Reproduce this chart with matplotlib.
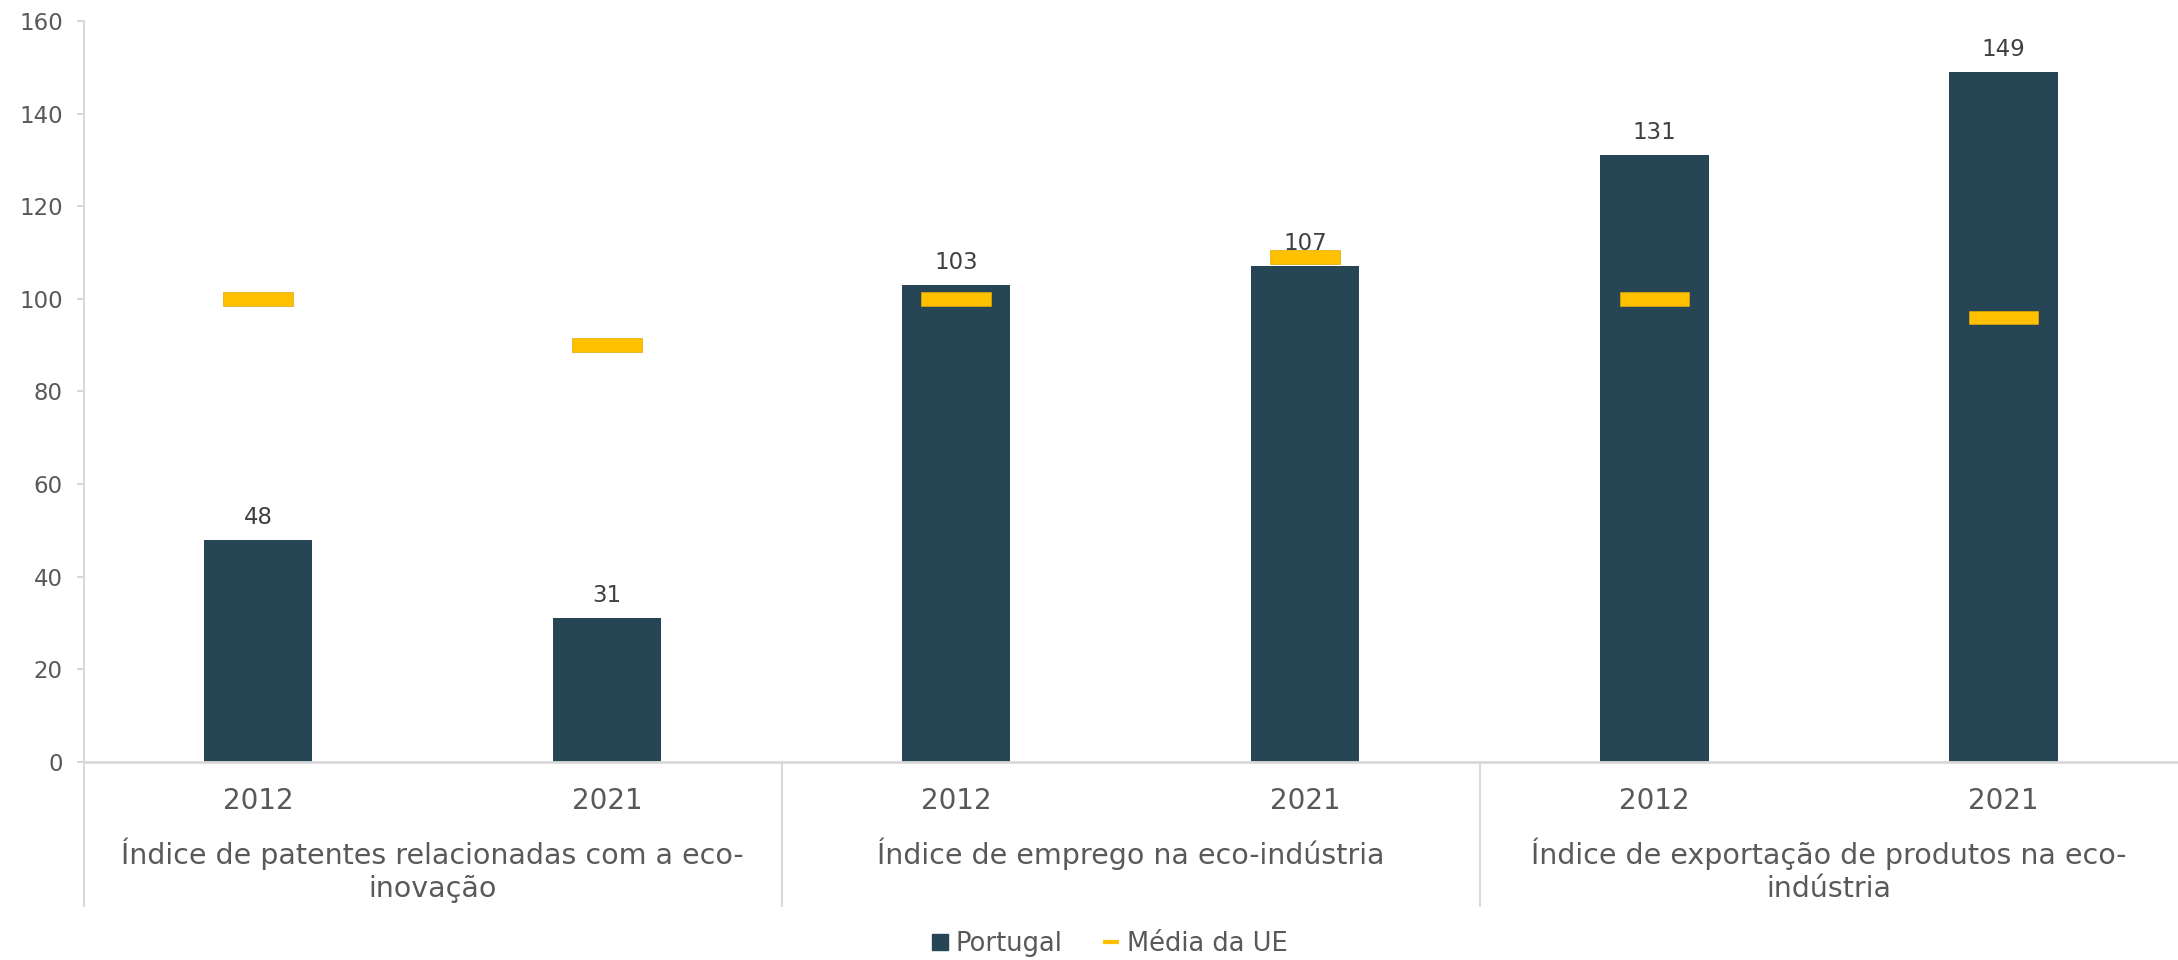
import matplotlib
matplotlib.use('Agg')
import matplotlib.pyplot as plt
from matplotlib.lines import Line2D

# Chart data
groups = ['Índice de patentes relacionadas com a eco-\ninovação',
          'Índice de emprego na eco-indústria',
          'Índice de exportação de produtos na eco-\nindústria']
years = ['2012', '2021', '2012', '2021', '2012', '2021']
portugal = [48, 31, 103, 107, 131, 149]
media_ue = [100, 90, 100, 109, 100, 96]

bar_color = '#264656'
ue_color = '#FFC000'
text_color = '#595959'
line_color = '#D9D9D9'

plt.rcParams['font.family'] = ['DejaVu Sans']

fig = plt.figure(figsize=(21.78, 9.6), dpi=100)
ax = fig.add_axes([0.0384, 0.2063, 0.9616, 0.7719])

x = list(range(len(portugal)))

# Portugal bars
ax.bar(x, portugal, width=0.31, color=bar_color, zorder=2)

# EU average markers (thin bars centred on the value)
ue_h = 2.9
ax.bar(x, [ue_h] * len(media_ue), bottom=[v - ue_h / 2 for v in media_ue],
       width=0.2, color=ue_color, edgecolor='#E0A800', linewidth=0.5, zorder=3)

# value labels
for xi, v in zip(x, portugal):
    ax.annotate(str(v), (xi, v), xytext=(0, 8), textcoords='offset points',
                ha='center', va='bottom', fontsize=16.5, color='#404040')

ax.set_xlim(-0.5, len(portugal) - 0.5)
ax.set_ylim(0, 160)
ax.set_yticks(range(0, 161, 20))
ax.tick_params(axis='y', labelsize=16.5, labelcolor=text_color, color=line_color,
               length=5, width=1.5, pad=10)
ax.set_xticks([])

for s in ['top', 'right']:
    ax.spines[s].set_visible(False)
ax.spines['left'].set_color(line_color)
ax.spines['left'].set_linewidth(1.5)
ax.spines['bottom'].set_color(line_color)
ax.spines['bottom'].set_linewidth(2)

trans = ax.get_xaxis_transform()

# year labels
for xi, yr in zip(x, years):
    ax.text(xi, -0.0526, yr, transform=trans, ha='center', va='center',
            fontsize=20, color=text_color)

# group labels and separators
for i, g in enumerate(groups):
    ax.text(2 * i + 0.5, -0.1026, g, transform=trans, ha='center', va='top',
            fontsize=20.5, color=text_color, linespacing=1.22)
for b in [-0.5, 1.5, 3.5]:
    ax.plot([b, b], [0, -0.194], transform=trans, color=line_color,
            linewidth=1.5, clip_on=False)

handles = [Line2D([], [], marker='s', linestyle='none', color=bar_color, markersize=11),
           Line2D([], [], marker='_', linestyle='none', color=ue_color,
                  markersize=12, markeredgewidth=3)]
fig.legend(handles, ['Portugal', 'Média da UE'], loc='center', bbox_to_anchor=(0.509, 0.017),
           ncol=2, frameon=False, fontsize=18.5, handlelength=0.8, handletextpad=0.2,
           columnspacing=1.5, labelcolor=text_color)

fig.savefig('out.png', dpi=100)
